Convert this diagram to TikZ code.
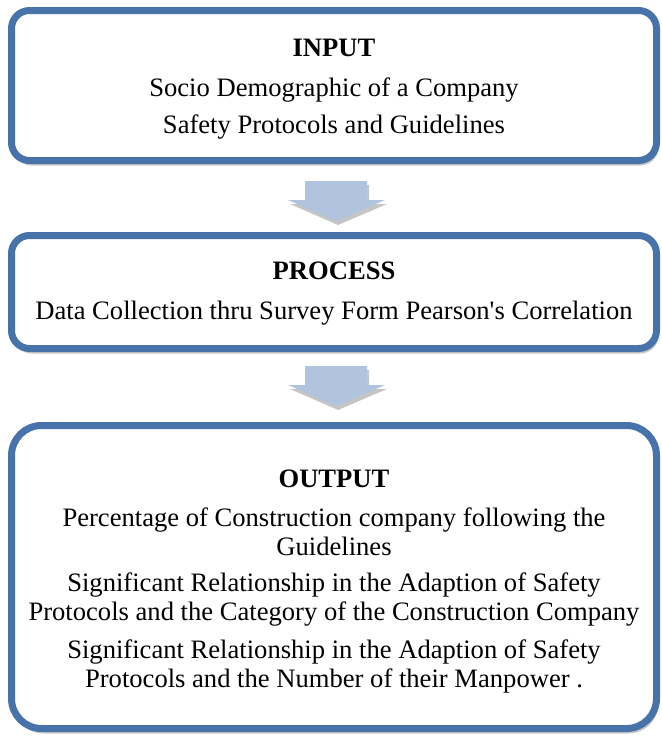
\documentclass[tikz,border=0pt]{standalone}
\usepackage{fontspec}
\setmainfont{Liberation Serif}
\usetikzlibrary{positioning,shadows}
\definecolor{frameblue}{RGB}{72,115,170}
\definecolor{arrowblue}{RGB}{176,196,224}

\begin{document}
\begin{tikzpicture}[x=1pt,y=-1pt,
  stage/.style={draw=frameblue,line width=7pt,fill=white,rounded corners=18pt,
    minimum width=645pt,inner sep=0pt,
    drop shadow={shadow xshift=2pt,shadow yshift=-5pt,fill=black!40,opacity=0.55}},
  stagetext/.style={align=center,inner sep=0pt,font=\fontsize{26.6}{29}\selectfont},
  flowarrow/.style={fill=arrowblue,
    drop shadow={shadow xshift=2pt,shadow yshift=-4pt,fill=black!45,opacity=0.5}}]
\useasboundingbox (0,0) rectangle (662,740);
\node[stage,minimum height=150pt] (input) at (334,85.5) {};
\node[stagetext] (inputtext) at ([yshift=-4pt]input.center)
  {\textbf{INPUT}\\[11pt]
   Socio Demographic of a Company\\[8pt]
   Safety Protocols and Guidelines};
\node[stage,minimum height=113pt] (process) at (334,292) {};
\node[stagetext] (processtext) at ([yshift=-2pt]process.center)
  {\textbf{PROCESS}\\[11pt]
   Data Collection thru Survey Form Pearson\textquotesingle s Correlation};
\node[stage,minimum height=303pt,rounded corners=30pt] (output) at (334,577) {};
\node[stagetext] (outputtext) at ([yshift=-5pt]output.center)
  {\textbf{OUTPUT}\\[10pt]
   Percentage of Construction company following the\\
   Guidelines\\[7pt]
   Significant Relationship in the Adaption of Safety\\
   Protocols and the Category of the Construction Company\\[9pt]
   Significant Relationship in the Adaption of Safety\\
   Protocols and the Number of their Manpower .};
% block arrows between the stages
\foreach \t in {181,366}
  \path[flowarrow] (305,\t) -- (367,\t) -- (367,\t+19) -- (385,\t+19)
    -- (336,\t+40) -- (288,\t+19) -- (305,\t+19) -- cycle;
\end{tikzpicture}
\end{document}
